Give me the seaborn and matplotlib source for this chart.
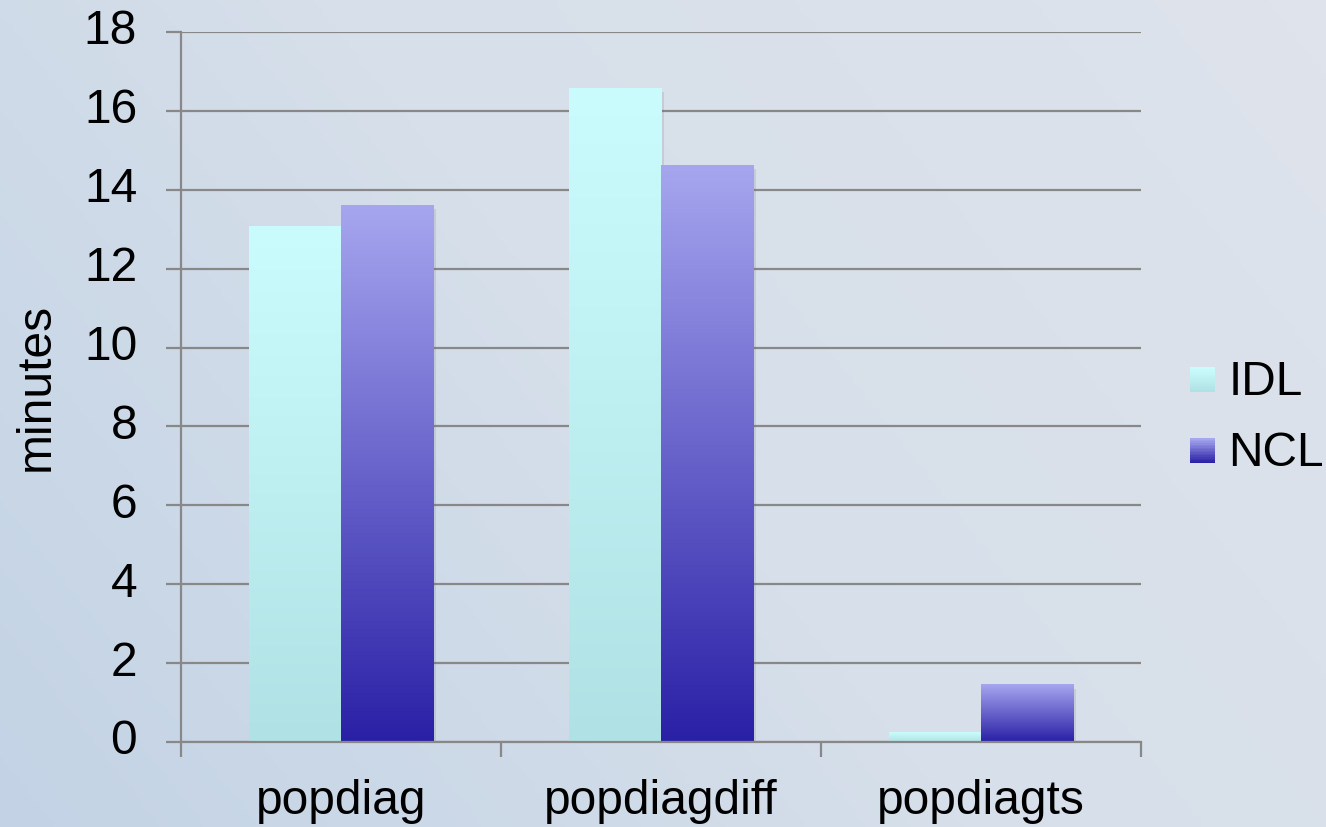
import numpy as np
import pandas as pd
import matplotlib
matplotlib.use("Agg")
import matplotlib.pyplot as plt
import seaborn as sns
from matplotlib.colors import LinearSegmentedColormap
from matplotlib.legend_handler import HandlerBase
from matplotlib.patches import Rectangle, Patch
import matplotlib.patheffects as pe

categories = ["popdiag", "popdiagdiff", "popdiagts"]
idl_values = [13.08, 16.58, 0.24]
ncl_values = [13.61, 14.62, 1.46]
series = ["IDL", "NCL"]
y_ticks = [0, 2, 4, 6, 8, 10, 12, 14, 16, 18]

grad_colors = {
    "IDL": ("#CBFCFD", "#B0E2E5"),
    "NCL": ("#A6A6EF", "#2920A6"),
}

df = pd.DataFrame({
    "category": categories * 2,
    "series": ["IDL"] * 3 + ["NCL"] * 3,
    "value": idl_values + ncl_values,
})

sns.set_theme(style="white")
plt.rcParams["font.family"] = ["Liberation Sans", "DejaVu Sans"]
plt.rcParams["text.color"] = "black"
plt.rcParams["axes.labelcolor"] = "black"

FS = 34.5

fig = plt.figure(figsize=(13.26, 8.27), dpi=100)

# background
bg = fig.add_axes([0, 0, 1, 1], zorder=-10)
yy, xx = np.mgrid[0:1:200j, 0:1:300j]
t = np.clip(0.55 * xx + 0.45 * (1 - yy) * 0.6 + 0.2, 0, 1)
bgcmap = LinearSegmentedColormap.from_list("bg", ["#C3D3E5", "#D6DFEA", "#DEE3EC"])
bg.imshow(t, cmap=bgcmap, aspect="auto", extent=[0, 1, 0, 1], origin="upper")
bg.axis("off")

ax = fig.add_axes([181 / 1326, 1 - 742 / 827, 960 / 1326, 710 / 827])
ax.patch.set_alpha(0)

palette = {s: grad_colors[s][1] for s in series}
sns.barplot(data=df, x="category", y="value", hue="series", order=categories,
            hue_order=series, palette=palette, width=0.578, gap=0, ax=ax,
            legend=False, saturation=1, errorbar=None)

ax.set_xlim(-0.5, 2.5)
ax.set_ylim(0, 18)

# gradient fills
for container, s in zip(ax.containers, series):
    cmap = LinearSegmentedColormap.from_list(s, [grad_colors[s][1], grad_colors[s][0]])
    for bar in container.patches:
        x, w, h = bar.get_x(), bar.get_width(), bar.get_height()
        bar.set_edgecolor("none")
        bar.set_path_effects([pe.SimplePatchShadow(offset=(2, -3), alpha=0.15,
                                                   shadow_rgbFace="#606070"),
                              pe.Normal()])
        bar.set_zorder(3)
        grad = np.linspace(0, 1, 256).reshape(-1, 1)
        ax.imshow(grad, cmap=cmap, aspect="auto", origin="lower",
                  extent=[x, x + w, 0, h], zorder=3.5, interpolation="bilinear")
ax.set_xlim(-0.5, 2.5)
ax.set_ylim(0, 18)
ax.set_aspect("auto")

# grid and spines
ax.set_yticks(y_ticks)
ax.yaxis.grid(True, color="#888888", linewidth=1.6)
ax.xaxis.grid(False)
ax.set_axisbelow(True)
for sp in ["top", "right"]:
    ax.spines[sp].set_visible(False)
for sp in ["left", "bottom"]:
    ax.spines[sp].set_color("#888888")
    ax.spines[sp].set_linewidth(1.6)
    ax.spines[sp].set_zorder(5)

ax.set_xticks(range(len(categories)))
ax.set_xticklabels(categories)
ax.set_xticks([-0.5, 0.5, 1.5, 2.5], minor=True)
ax.tick_params(axis="x", which="major", length=0, labelsize=FS, pad=27, labelcolor="black")
ax.tick_params(axis="x", which="minor", length=10.5, width=1.6, color="#888888", direction="out", bottom=True)
ax.tick_params(axis="y", which="major", length=10.5, width=1.6, color="#888888", direction="out",
               labelsize=FS, pad=21, labelcolor="black", left=True)
for lbl in ax.get_yticklabels():
    lbl.set_verticalalignment("center")
ax.set_xlabel("")
ax.set_ylabel("minutes", fontsize=FS, color="black", labelpad=18)


class GradHandler(HandlerBase):
    def __init__(self, c_top, c_bot):
        super().__init__()
        self.c_top, self.c_bot = c_top, c_bot

    def create_artists(self, legend, orig_handle, xdescent, ydescent, width, height, fontsize, trans):
        cmap = LinearSegmentedColormap.from_list("h", [self.c_bot, self.c_top])
        n = 16
        side = 18
        x0 = -xdescent + width - side
        y0 = -ydescent + (height - side) / 2 - 1
        arts = []
        for i in range(n):
            r = Rectangle((x0, y0 + side * i / n), side, side / n + 0.3,
                          facecolor=cmap(i / (n - 1)), edgecolor="none", transform=trans)
            arts.append(r)
        return arts


handles = [Patch(label=s) for s in series]
leg = fig.legend(handles=handles, labels=series,
                 handler_map={h: GradHandler(*grad_colors[s]) for h, s in zip(handles, series)},
                 loc="center left", bbox_to_anchor=(1190 / 1326, 1 - 418 / 827),
                 frameon=False, fontsize=FS, handlelength=18 / FS, handletextpad=0.28,
                 labelspacing=0.55, borderaxespad=0, borderpad=0)
for txt in leg.get_texts():
    txt.set_color("black")

fig.savefig("out.png", dpi=100)
